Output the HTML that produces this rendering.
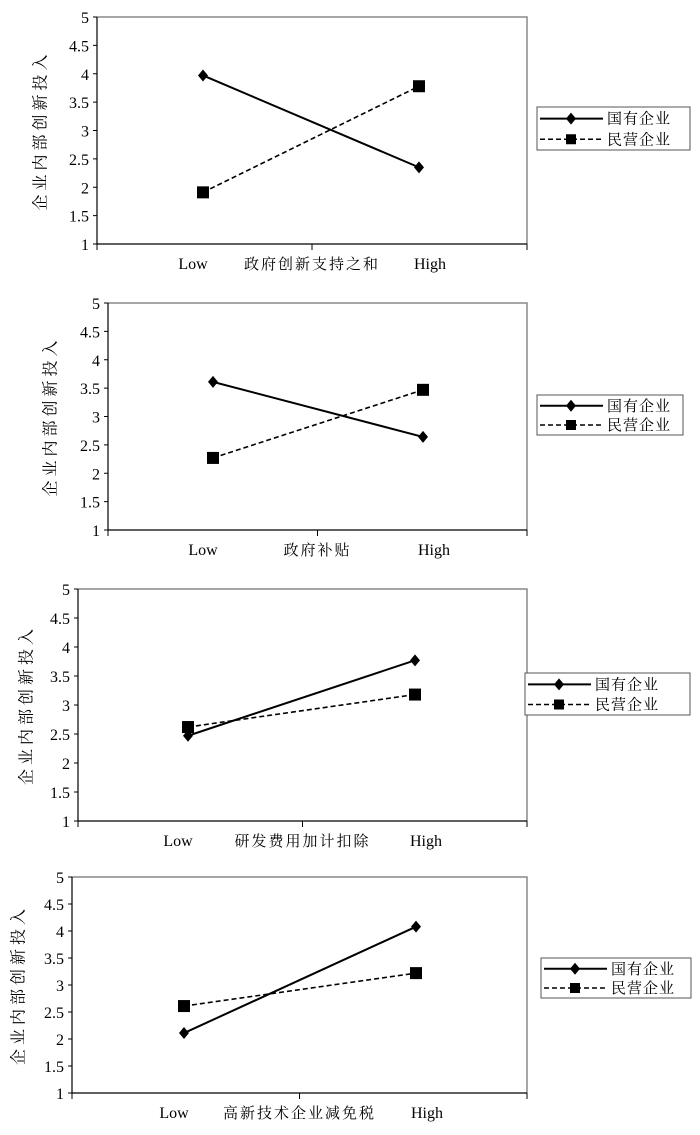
<!DOCTYPE html>
<html><head><meta charset="utf-8"><style>
html,body{margin:0;padding:0;background:#fff;}
svg text{font-family:"Liberation Serif","Noto Serif CJK SC",serif;fill:#000;}
</style></head><body>
<svg id="s" width="700" height="1130" xmlns="http://www.w3.org/2000/svg"></svg>
<script>
const categories = ["Low","High"];
const yTicks = [1,1.5,2,2.5,3,3.5,4,4.5,5];
const seriesNames = ["国有企业","民营企业"];
const xTitles = ["政府创新支持之和","政府补贴","研发费用加计扣除","高新技术企业减免税"];
const stateValues1 = [3.97,2.35];
const privValues1 = [1.91,3.78];
const stateValues2 = [3.61,2.64];
const privValues2 = [2.27,3.47];
const stateValues3 = [2.47,3.77];
const privValues3 = [2.62,3.18];
const stateValues4 = [2.11,4.08];
const privValues4 = [2.61,3.22];
const yTitle = "企业内部创新投入";

const panels = [
 {l:97,r:527,t:17,b:244,lowX:203,highX:419,leg:[537,107,153,43],s:stateValues1,p:privValues1,x:xTitles[0],yl:42},
 {l:108,r:527,t:303,b:530,lowX:213,highX:423,leg:[537,395,146,40],s:stateValues2,p:privValues2,x:xTitles[1],yl:52},
 {l:78,r:527,t:589,b:821,lowX:188,highX:415,leg:[525,673,165,42],s:stateValues3,p:privValues3,x:xTitles[2],yl:28},
 {l:72,r:527,t:877,b:1093,lowX:184,highX:416,leg:[541,958,150,40],s:stateValues4,p:privValues4,x:xTitles[3],yl:20}
];
const svg=document.getElementById('s');
const NS="http://www.w3.org/2000/svg";
function mk(tag,attrs,parent){const e=document.createElementNS(NS,tag);for(const k in attrs)e.setAttribute(k,attrs[k]);(parent||svg).appendChild(e);return e;}
function diamond(x,y,g){return mk('polygon',{points:`${x},${y-6} ${x+5},${y} ${x},${y+6} ${x-5},${y}`,fill:'#000'},g);}
function square(x,y,g,h){return mk('rect',{x:x-h,y:y-h,width:2*h,height:2*h,fill:'#000'},g);}

panels.forEach((P,i)=>{
 const g=mk('g',{});
 
 
 const yS=v=>P.b-(v-1)/4*(P.b-P.t);
 const xS=c=>c===0?P.lowX:P.highX;
 const f=mk('path',{d:`M${P.l},${P.t}H${P.r}V${P.b}`,fill:'none',stroke:'#888','stroke-width':1.5},g);
 
 
 const ax=mk('path',{d:`M${P.l},${P.t}V${P.b}H${P.r}`,fill:'none',stroke:'#000','stroke-width':1.2},g);
 
 
 [P.l,(P.l+P.r)/2,P.r].forEach(x=>mk('line',{x1:x,y1:P.b,x2:x,y2:P.b+6,stroke:'#000'},g));
 yTicks.forEach(v=>{
  const y=yS(v);
  mk('line',{x1:P.l-4,y1:y,x2:P.l,y2:y,stroke:'#000'},g);
  const t=mk('text',{x:P.l-8,y:y+6,'text-anchor':'end','font-size':16},g);
  t.textContent=v;
  
  
 });
 categories.forEach((c,ci)=>{
  const t=mk('text',{x:xS(ci)+(ci?11:-10),y:P.b+25,'text-anchor':'middle','font-size':16},g);
  t.textContent=c;
  
  
 });
 const xt=mk('text',{x:(P.l+P.r)/2,y:P.b+25,'text-anchor':'middle','font-size':15,'letter-spacing':2},g);
 xt.textContent=P.x;
 
 
 const cy=(P.t+P.b)/2;
 const yt=mk('text',{x:P.yl,y:cy,'text-anchor':'middle','font-size':16,'letter-spacing':4,transform:`rotate(-90 ${P.yl} ${cy})`,'dominant-baseline':'middle'},g);
 yt.textContent=yTitle;
 
 
 const l1=mk('line',{x1:xS(0),y1:yS(P.s[0]),x2:xS(1),y2:yS(P.s[1]),stroke:'#000','stroke-width':2},g);
 
 
 const l2=mk('line',{x1:xS(0),y1:yS(P.p[0]),x2:xS(1),y2:yS(P.p[1]),stroke:'#000','stroke-width':1.6,'stroke-dasharray':'5,3'},g);
 
 
 P.s.forEach((v,ci)=>{const d=diamond(xS(ci),yS(v),g);});
 P.p.forEach((v,ci)=>{const d=square(xS(ci),yS(v),g,6);});
 const [lx,ly,lw,lh]=P.leg;
 const lg=mk('g',{},g);
 
 
 mk('rect',{x:lx,y:ly,width:lw,height:lh,fill:'#fff',stroke:'#555'},lg);
 const r1=ly+lh*0.27,r2=ly+lh*0.75;
 mk('line',{x1:lx+3,y1:r1,x2:lx+66,y2:r1,stroke:'#000','stroke-width':2},lg);
 diamond(lx+34,r1,lg);
 mk('line',{x1:lx+3,y1:r2,x2:lx+66,y2:r2,stroke:'#000','stroke-width':1.6,'stroke-dasharray':'5,3'},lg);
 square(lx+34,r2,lg,5);
 seriesNames.forEach((n,k)=>{
  const t=mk('text',{x:lx+70,y:(k?r2:r1)+5,'font-size':15,'letter-spacing':1},lg);
  t.textContent=n;
  
  
 });
});
</script>
</body></html>
